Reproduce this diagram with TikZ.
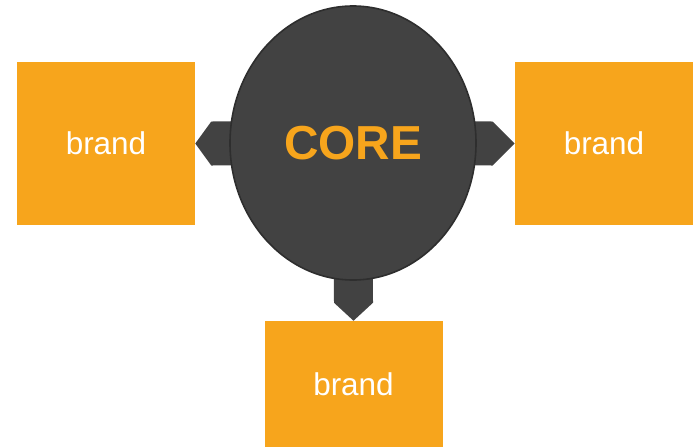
\documentclass[tikz,border=0pt]{standalone}
\usepackage{fontspec}
\setmainfont{Liberation Sans}
\usetikzlibrary{shapes.geometric,calc,backgrounds}

\definecolor{brandorange}{HTML}{F7A51C}
\definecolor{coregray}{HTML}{424242}
\definecolor{coreedge}{HTML}{2E2E2E}

\begin{document}
\begin{tikzpicture}[x=0.75pt,y=-0.75pt,
  brandbox/.style={fill=brandorange,inner sep=0pt,minimum width=133.5pt,
    text=white,font=\fontsize{23.6}{23.6}\selectfont},
  pointer/.style={fill=coregray}]
  \useasboundingbox (0,0) rectangle (695,447);

  \node[ellipse,fill=coregray,draw=coreedge,line width=1.2pt,
        minimum width=184.5pt,minimum height=205.5pt,inner sep=0pt,
        text=brandorange,font=\bfseries\fontsize{35.8}{35.8}\selectfont]
        (core) at (353,143) {CORE};
  \node[brandbox,minimum height=122.25pt] (lbrand) at (106,143.5) {brand};
  \node[brandbox,minimum height=122.25pt] (rbrand) at (604,143.5) {brand};
  \node[brandbox,minimum height=94.5pt] (bbrand) at (353.5,384) {brand};

  % arrow tabs behind the core
  \begin{scope}[on background layer]
    \fill[pointer] (lbrand.east) -- ($(lbrand.east)+(16,-22)$)
      -- ($(core.center)+(0,-22)$) -- ($(core.center)+(0,22)$)
      -- ($(lbrand.east)+(16,22)$) -- cycle;
    \fill[pointer] (rbrand.west) -- ($(rbrand.west)+(-22,-22)$)
      -- ($(core.center)+(0,-22)$) -- ($(core.center)+(0,22)$)
      -- ($(rbrand.west)+(-22,22)$) -- cycle;
    \fill[pointer] (bbrand.north) -- ($(bbrand.north)+(-19.5,-18)$)
      -- ($(core.center)+(-19.5,0)$) -- ($(core.center)+(19.5,0)$)
      -- ($(bbrand.north)+(19.5,-18)$) -- cycle;
  \end{scope}
\end{tikzpicture}
\end{document}
